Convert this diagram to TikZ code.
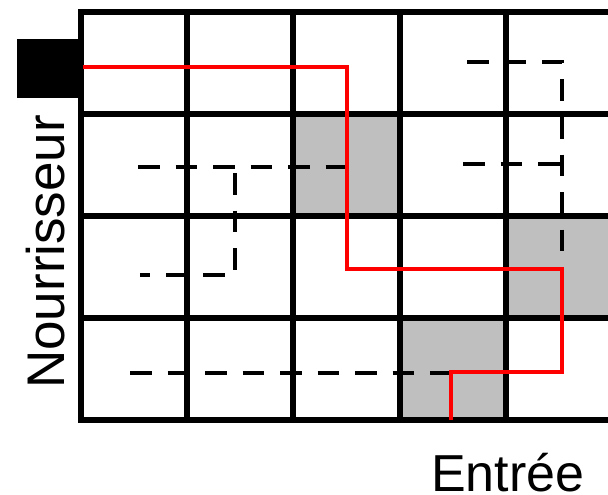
\documentclass[tikz,border=0pt]{standalone}
\usepackage{fontspec}
\setmainfont{Liberation Sans}
\begin{document}
\begin{tikzpicture}[x=1pt,y=-1pt,
  gridline/.style={line width=5.2pt, black},
  cellfill/.style={fill=black!25, draw=none},
  pathred/.style={line width=4.8pt, red, line join=miter},
  dashpath/.style={line width=4.8pt, black, dash pattern=on 21.5pt off 16pt},
  label/.style={inner sep=0pt},
  feederbox/.style={fill=black, draw=none, inner sep=0pt, minimum width=64pt, minimum height=59pt}]
\useasboundingbox (0,0) rectangle (608,495);
% shaded cells
\fill[cellfill] (293,114) rectangle (400,216);
\fill[cellfill] (506,216) rectangle (608,318);
\fill[cellfill] (400,318) rectangle (506,420);
% grid
\foreach \y in {12,114,216,318,420} \draw[gridline] (78.4,\y) -- (610,\y);
\foreach \x in {81,187,293,400,506} \draw[gridline] (\x,12) -- (\x,420);
% feeder
\node[feederbox] (feeder) at (49,68.5) {};
% dashed paths
\draw[dashpath] (467,62) -- (562,62) -- (562,270);
\draw[dashpath] (463,164) -- (560,164);
\draw[dashpath] (138,167) -- (347,167);
\draw[dashpath] (235,173) -- (235,275) -- (140,275);
\draw[dashpath] (130,373) -- (451,373);
% red path
\draw[pathred] (83,67) -- (347,67) -- (347,269) -- (562,269) -- (562,372) -- (451,372) -- (451,420);
% labels
\node[label, font=\fontsize{53}{62}\selectfont, rotate=90, anchor=base west] (nour) at (64,389) {Nourrisseur};
\node[label, font=\fontsize{52}{61}\selectfont, anchor=base west] (entree) at (431,491) {Entrée};
\end{tikzpicture}
\end{document}
